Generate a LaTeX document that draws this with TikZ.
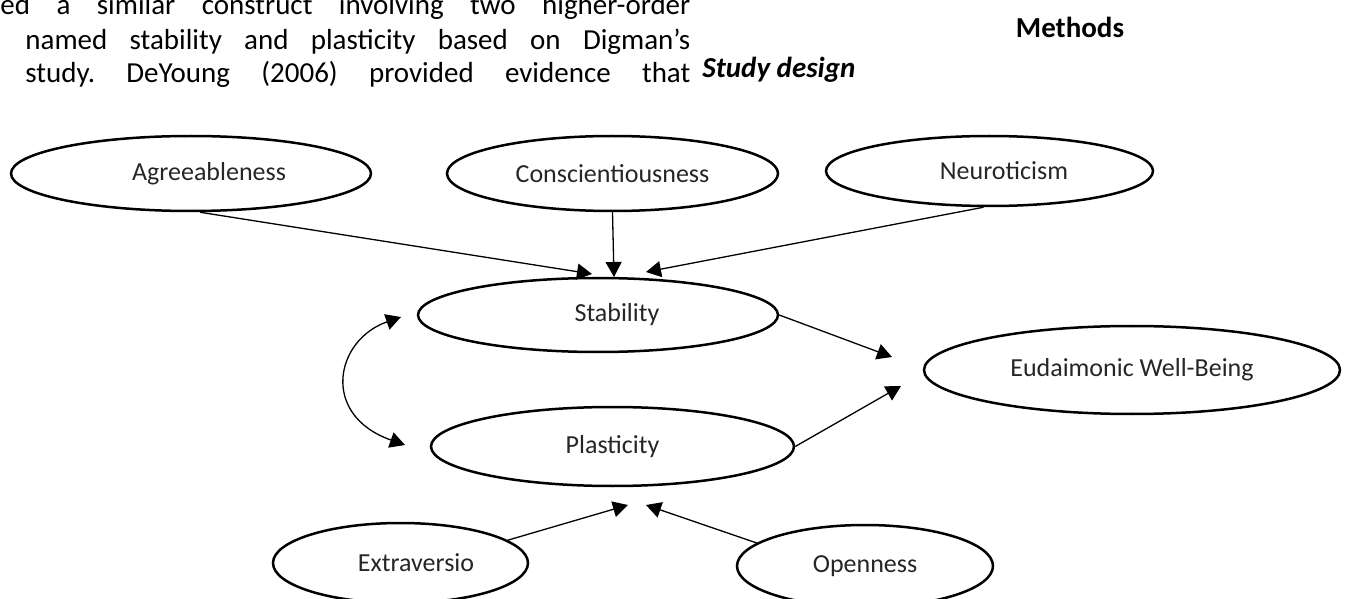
\documentclass[tikz,border=0pt]{standalone}
\usepackage{fontspec}
\setmainfont{Carlito}
\usetikzlibrary{shapes.geometric,arrows.meta}
\frenchspacing
\begin{document}
\begin{tikzpicture}[x=0.5pt,y=-0.5pt]
\tikzset{
  oval/.style={ellipse, draw, line width=1.25pt, inner sep=0pt, text=black!85,
    font=\fontsize{13}{15}\selectfont},
  conn/.style={line width=0.65pt, -{Triangle[length=7.5pt,width=8pt]}},
  bconn/.style={line width=0.65pt, {Triangle[length=7.5pt,width=8pt]}-{Triangle[length=7.5pt,width=8pt]}},
  body/.style={anchor=base west, inner sep=0pt, font=\fontsize{14.5}{17}\selectfont},
  head/.style={inner sep=0pt, font=\fontsize{14.5}{17}\selectfont\bfseries}
}
\useasboundingbox (0,0) rectangle (1357,599);
\clip (0,0) rectangle (1357,599);

% text above the figure
\node[body] (l1) at (0,15) {\makebox[345pt][s]{ed a similar construct involving two higher-order}};
\node[body] (l2) at (25,50) {\makebox[332.5pt][s]{named stability and plasticity based on Digman’s}};
\node[body] (l3) at (25,83) {\makebox[332.5pt][s]{study. DeYoung (2006) provided evidence that}};
\node[head, anchor=base] (meth) at (1070,38) {Methods};
\node[head, anchor=base west] (sd) at (702,78) {\itshape Study design};

% ellipses
\node[oval, minimum width=180pt, minimum height=37.5pt] (agr) at (191,173.5) {\hspace*{18pt}Agreeableness};
\node[oval, minimum width=165.5pt, minimum height=37.5pt] (con) at (612.5,173.5) {Conscientiousness};
\node[oval, minimum width=163.5pt, minimum height=35pt] (neu) at (989.5,171) {\hspace*{14.5pt}Neuroticism};
\node[oval, minimum width=180pt, minimum height=37pt] (sta) at (598,315) {\hspace*{19pt}Stability};
\node[oval, minimum width=181.5pt, minimum height=39.5pt] (pla) at (612.5,446.5) {Plasticity};
\node[oval, minimum width=208pt, minimum height=44pt] (ewb) at (1132,370) {Eudaimonic Well-Being};
\node[oval, minimum width=127.5pt, minimum height=40pt] (ext) at (400.5,563) {\hspace*{15.5pt}Extraversio};
\node[oval, minimum width=128pt, minimum height=41pt] (ope) at (865,566) {Openness};

% free arrow tips
\coordinate (tA) at (592,274);
\coordinate (tC) at (614,277);
\coordinate (tN) at (646,272);
\coordinate (tS) at (892,357);
\coordinate (tP) at (901,386);
\coordinate (tE) at (628,505);
\coordinate (tO) at (646,505);
\coordinate (cTop) at (401,317);
\coordinate (cBot) at (405,445);

% connectors
\draw[conn] ([xshift=4.5pt]agr.south) -- (tA);
\draw[conn] (con.south) -- (tC);
\draw[conn] ([xshift=-3pt]neu.south) -- (tN);
\draw[conn] (sta.east) -- (tS);
\draw[conn] (pla.east) -- (tP);
\draw[conn] (ext.12) -- (tE);
\draw[conn] (ope.168) -- (tO);
\draw[bconn] (cTop) .. controls (335,340) and (320,415) .. (cBot);
\end{tikzpicture}
\end{document}
